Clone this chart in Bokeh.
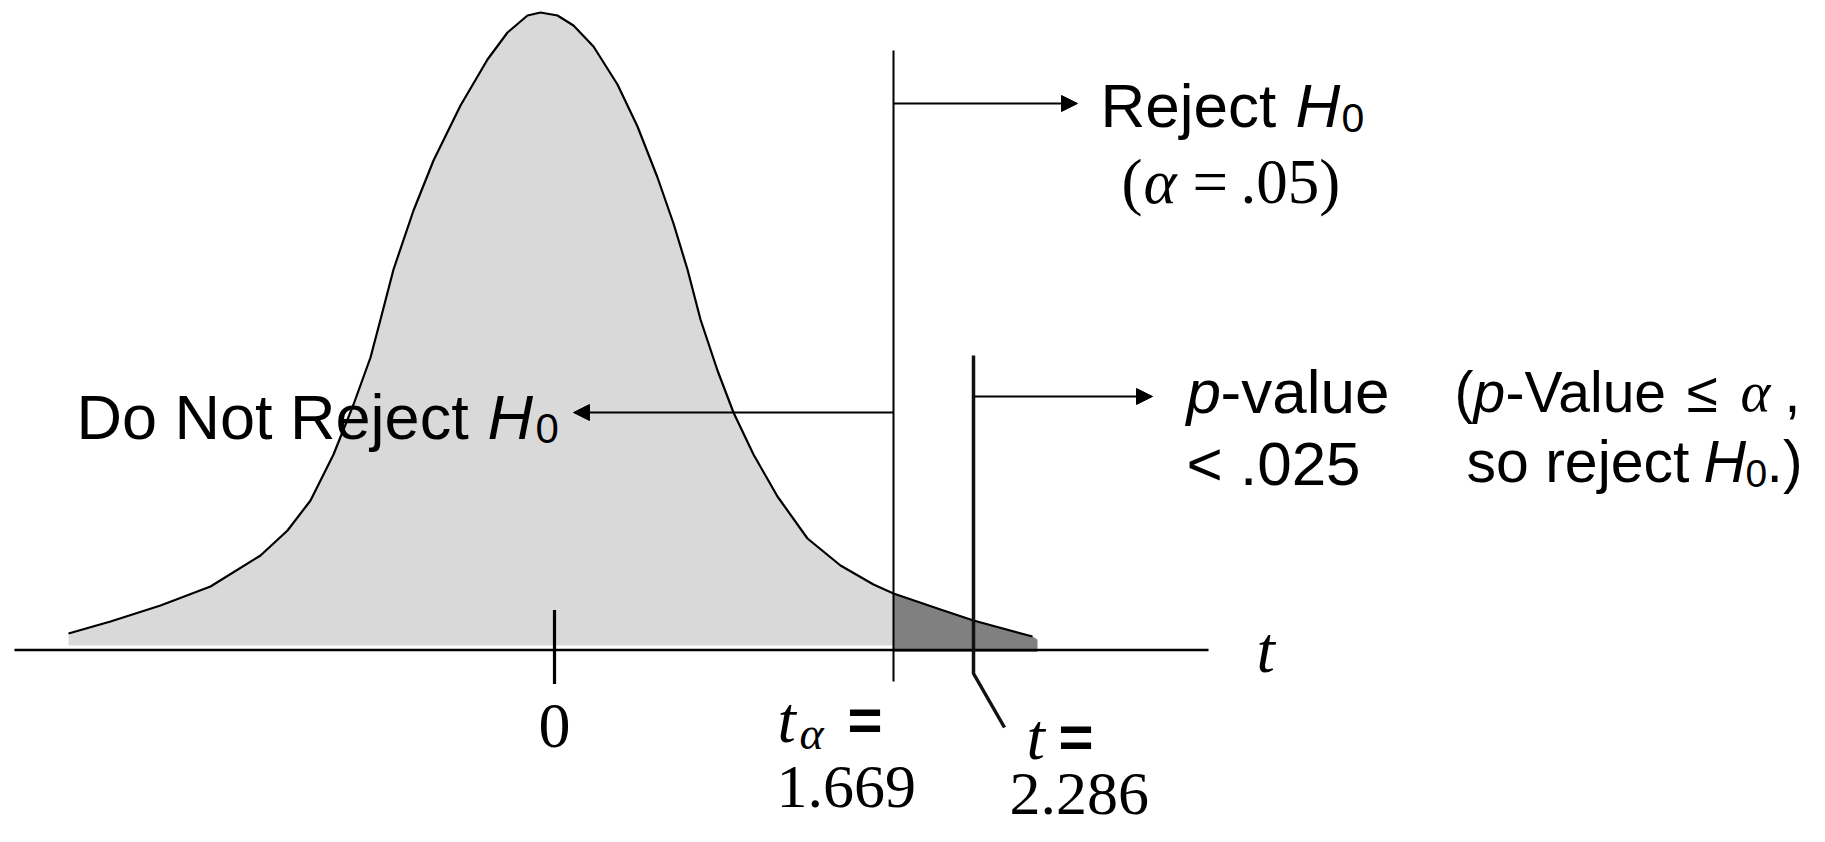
from bokeh.plotting import figure
from bokeh.models import Range1d, Label, Arrow, NormalHead
from bokeh.embed import file_html
from bokeh.resources import INLINE

# ---- data (drawing units: x along the t axis, h = height above the axis) ----
curve_x = [68, 110, 160, 210, 260, 287, 310, 333, 353, 370, 380, 393, 413, 433, 460,
           487, 507, 527, 540, 557, 573, 593, 617, 637, 657, 673, 687, 700, 717, 733,
           753, 777, 807, 840, 873, 893, 940, 973, 1032]
curve_h = [16.5, 28.5, 44.5, 63.5, 94.5, 119.5, 149.5, 195.5, 245.5, 292.5, 330.5, 380.5,
           439.5, 489.5, 544.5, 590.5, 617.5, 634.5, 637.5, 634.5, 624.5, 603.5, 565.5,
           523.5, 472.5, 426.5, 380.5, 330.5, 279.5, 237.5, 195.5, 153.5, 111.5, 84.5,
           65.5, 56.5, 40.5, 29.5, 13.5]

zero_pos = 554          # drawn position of t = 0
t_alpha_pos = 893       # drawn position of the critical value
t_stat_pos = 973        # drawn position of the test statistic
t_alpha_value = "1.669"
t_stat_value = "2.286"
alpha_text = ".05)"
pvalue_text = "< .025"

SANS = "Liberation Sans"
SERIF = "Liberation Serif"

p = figure(width=1809, height=826, output_backend="svg", toolbar_location=None,
           x_range=Range1d(0, 1809), y_range=Range1d(-176.5, 649.5),
           min_border=0, x_axis_location=None, y_axis_location=None)
p.grid.visible = False
p.outline_line_color = None
p.background_fill_color = "white"
p.border_fill_color = "white"

# shaded areas
gx = [x for x in curve_x if x <= t_alpha_pos]
gh = [h for x, h in zip(curve_x, curve_h) if x <= t_alpha_pos]
p.varea(x=gx, y1=[4.5] * len(gx), y2=gh, fill_color="#d9d9d9")
dx = [x for x in curve_x if x >= t_alpha_pos]
dh = [h for x, h in zip(curve_x, curve_h) if x >= t_alpha_pos]
p.varea(x=dx + [dx[-1] + 5], y1=[-2] * (len(dx) + 1), y2=dh + [dh[-1] - 3],
        fill_color="#808080")

# curve
p.line(curve_x, curve_h, line_color="black", line_width=2.2, line_join="round")

# t axis
p.line([14, 1208], [0, 0], line_color="black", line_width=2.5)
# zero tick
p.line([zero_pos, zero_pos], [40, -34], line_color="black", line_width=3.2)
# critical value line
p.line([t_alpha_pos, t_alpha_pos], [599.5, -31.5], line_color="black", line_width=2)
# test statistic line with leader
p.line([t_stat_pos, t_stat_pos, t_stat_pos + 31], [294.5, -23.5, -77.5],
       line_color="#111111", line_width=3.5)

head = dict(size=16, fill_color="black", line_color="black")
p.add_layout(Arrow(end=NormalHead(**head), x_start=t_alpha_pos, y_start=546.5,
                   x_end=1077, y_end=546.5, line_width=2))
p.add_layout(Arrow(end=NormalHead(**head), x_start=t_alpha_pos, y_start=237.5,
                   x_end=573, y_end=237.5, line_width=2))
p.add_layout(Arrow(end=NormalHead(**head), x_start=t_stat_pos, y_start=253.5,
                   x_end=1152, y_end=253.5, line_width=2))


def lab(x, y, text, size, font=SANS, style="normal", align="left"):
    p.add_layout(Label(x=x, y=y, text=text, text_font=font, text_font_size=f"{size}px",
                       text_font_style=style, text_color="black",
                       text_baseline="alphabetic", text_align=align))


# Reject H0 (alpha = .05)
lab(1100, 544.5, "Reject", 62)
lab(1295, 544.5, "H", 62, style="italic")
lab(1341, 532.5, "0", 41)
lab(1121, 468.5, "(", 63, SERIF)
lab(1143, 468.5, "α", 63, SERIF, "italic")
lab(1192, 468.5, "=", 63, SERIF)
lab(1240, 468.5, alpha_text, 63, SERIF)

# Do Not Reject H0
lab(76, 233.5, "Do Not Reject", 63)
lab(487, 233.5, "H", 63, style="italic")
lab(535, 221.5, "0", 42)

# p-value < .025
lab(1186, 258.5, "p", 62, style="italic")
lab(1220, 258.5, "-value", 62)
lab(1186, 186.5, pvalue_text, 62)

# (p-Value <= alpha, so reject H0.)
lab(1454, 258.5, "(", 57)
lab(1473, 258.5, "p", 57, style="italic")
lab(1505, 258.5, "-Value", 57)
lab(1686, 258.5, "≤", 57)
lab(1740, 258.5, "α", 57, SERIF, "italic")
lab(1784, 258.5, ",", 57)
lab(1466, 188.5, "so reject", 59)
lab(1703, 188.5, "H", 59, style="italic")
lab(1745, 176.5, "0", 39)
lab(1766, 188.5, ".)", 59)

# axis labels
lab(1256, 0.5, "t", 66, SERIF, "italic")
lab(zero_pos, -75.5, "0", 64, SERIF, align="center")
lab(777, -69.5, "t", 66, SERIF, "italic")
lab(799, -83.5, "α", 46, SERIF, "italic")
lab(847, -69.5, "=", 60, SANS, "bold")
lab(776, -137, t_alpha_value, 62, SERIF)
lab(1026, -86.5, "t", 66, SERIF, "italic")
lab(1058, -86.5, "=", 60, SANS, "bold")
lab(1009, -144, t_stat_value, 62, SERIF)

open("out.html", "w").write(file_html(p, INLINE))
